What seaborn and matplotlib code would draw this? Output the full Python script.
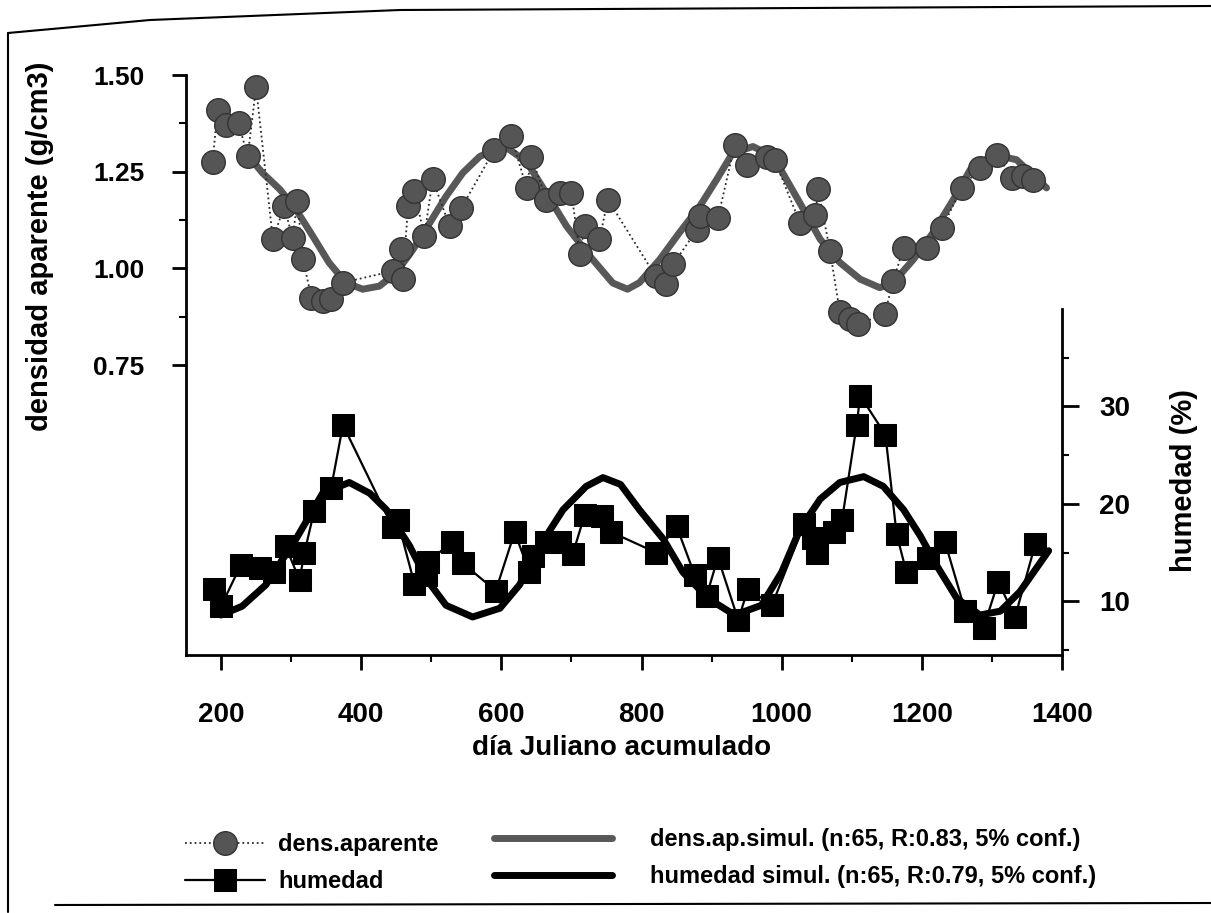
import matplotlib
matplotlib.use("Agg")
import matplotlib.pyplot as plt
from matplotlib.lines import Line2D
from matplotlib.ticker import MultipleLocator, FixedLocator
import seaborn as sns

# measured bulk density (g/cm3), in sampling order
dens_day = [188, 195, 207, 225, 238, 250, 274, 290, 302, 309, 317, 329, 345, 357, 374,
            445, 457, 459, 467, 476, 490, 502, 526, 543, 590, 614, 636, 643, 664, 683,
            700, 712, 719, 740, 752, 820, 835, 845, 879, 883, 909, 933, 950, 979, 990,
            1026, 1048, 1052, 1069, 1083, 1097, 1109, 1147, 1159, 1174, 1207, 1229, 1257,
            1283, 1307, 1329, 1345, 1359]
dens_val = [1.276, 1.41, 1.37, 1.375, 1.29, 1.468, 1.075, 1.16, 1.079, 1.173, 1.023, 0.924,
            0.915, 0.92, 0.963, 0.993, 1.049, 0.972, 1.16, 1.2, 1.083, 1.23, 1.109, 1.156,
            1.307, 1.341, 1.208, 1.289, 1.178, 1.195, 1.195, 1.036, 1.109, 1.075, 1.178,
            0.98, 0.96, 1.01, 1.10, 1.135, 1.13, 1.32, 1.268, 1.289, 1.28, 1.118, 1.139,
            1.204, 1.045, 0.886, 0.87, 0.856, 0.881, 0.967, 1.053, 1.053, 1.105, 1.208,
            1.26, 1.294, 1.234, 1.24, 1.229]

# measured moisture (%)
hum_day = [190, 200, 228, 255, 276, 292, 312, 319, 333, 357, 374, 445, 452, 476, 493, 495,
           529, 545, 592, 619, 640, 645, 664, 683, 702, 719, 743, 757, 821, 850, 876, 893,
           909, 938, 952, 986, 1032, 1045, 1050, 1074, 1086, 1107, 1112, 1148, 1164, 1178,
           1209, 1233, 1262, 1288, 1309, 1333, 1362]
hum_val = [11.3, 9.5, 13.7, 13.4, 13.0, 15.7, 12.2, 15.0, 19.3, 21.6, 28.1, 17.6, 18.3, 11.8,
           12.7, 14.0, 16.1, 13.9, 11.1, 17.1, 13.0, 14.7, 16.1, 16.1, 14.9, 18.9, 18.8, 17.1,
           15.0, 17.7, 12.7, 10.6, 14.5, 8.1, 11.3, 9.6, 17.9, 16.5, 15.0, 17.1, 18.3, 28.1,
           31.1, 27.1, 16.9, 13.0, 14.4, 16.1, 9.0, 7.3, 12.0, 8.4, 15.9]

# simulated curves
dsim_day = [238, 259, 284, 307, 331, 354, 378, 402, 426, 450, 474, 498, 521, 545, 569, 593,
            605, 625, 640, 664, 693, 726, 759, 780, 797, 826, 854, 883, 907, 930, 959, 988,
            1007, 1026, 1055, 1083, 1112, 1140, 1159, 1188, 1216, 1245, 1269, 1302, 1335, 1378]
dsim_val = [1.293, 1.247, 1.204, 1.152, 1.083, 1.015, 0.963, 0.946, 0.954, 0.989, 1.049,
            1.118, 1.186, 1.247, 1.289, 1.310, 1.315, 1.29, 1.264, 1.195, 1.109, 1.032, 0.962,
            0.946, 0.963, 1.023, 1.092, 1.16, 1.229, 1.298, 1.315, 1.289, 1.229, 1.169, 1.075,
            1.015, 0.972, 0.95, 0.963, 1.023, 1.092, 1.178, 1.255, 1.294, 1.281, 1.208]

hsim_day = [200, 230, 264, 307, 345, 383, 412, 436, 469, 493, 521, 559, 598, 626, 655, 688,
            721, 745, 770, 797, 831, 859, 895, 933, 971, 1000, 1026, 1055, 1083, 1117, 1145,
            1174, 1198, 1221, 1250, 1283, 1312, 1340, 1381]
hsim_val = [8.6, 9.5, 11.7, 16.4, 21.1, 22.2, 21.1, 19.4, 15.7, 12.3, 9.6, 8.4, 9.3, 11.7,
            15.7, 19.4, 21.8, 22.7, 22.0, 19.4, 16.4, 13.0, 10.3, 8.6, 9.6, 13.0, 17.4, 20.5,
            22.2, 22.8, 21.8, 19.4, 16.7, 13.7, 10.3, 8.6, 9.0, 11.0, 15.2]

lab_dens = 'dens.aparente'
lab_hum = 'humedad'
lab_dsim = 'dens.ap.simul. (n:65, R:0.83, 5% conf.)'
lab_hsim = 'humedad simul. (n:65, R:0.79, 5% conf.)'

sns.set_theme(style="ticks")
plt.rcParams['font.family'] = ['Liberation Sans', 'DejaVu Sans']
plt.rcParams['font.weight'] = 'bold'
plt.rcParams['axes.linewidth'] = 2
for k in ['text.color', 'axes.labelcolor', 'xtick.color', 'ytick.color', 'axes.edgecolor']:
    plt.rcParams[k] = 'black'

W, H = 1211, 913
fig = plt.figure(figsize=(W / 100, H / 100), dpi=100)
ax = fig.add_axes([186 / W, 1 - 655 / H, 876 / W, 580 / H])
ax2 = ax.twinx()

# density on the left axis
sns.lineplot(x=dsim_day, y=dsim_val, ax=ax, color='#585858', linewidth=5,
             solid_joinstyle='round', sort=False, estimator=None, label=lab_dsim)
sns.lineplot(x=dens_day, y=dens_val, ax=ax, color='#2a2a2a', linewidth=1.3, linestyle=':',
             marker='o', markersize=17, markerfacecolor='#555555', markeredgecolor='#333333',
             markeredgewidth=1, sort=False, estimator=None, label=lab_dens)

# moisture on the right axis
sns.lineplot(x=hsim_day, y=hsim_val, ax=ax2, color='black', linewidth=5,
             solid_joinstyle='round', sort=False, estimator=None, label=lab_hsim)
sns.lineplot(x=hum_day, y=hum_val, ax=ax2, color='black', linewidth=1.6,
             marker='s', markersize=15.5, markerfacecolor='black', markeredgecolor='black',
             sort=False, estimator=None, label=lab_hum)

h1, l1 = ax.get_legend_handles_labels()
h2, l2 = ax2.get_legend_handles_labels()
ax.get_legend().remove()
ax2.get_legend().remove()
hd = dict(zip(l1 + l2, h1 + h2))

# axes limits and ticks
ax.set_xlim(150, 1400)
ax.set_ylim(0, 1.5)
ax2.set_ylim(4.5, 64)
ax.set_xticks(range(200, 1401, 200))
ax.xaxis.set_minor_locator(MultipleLocator(100))
ax.set_yticks([0.75, 1.0, 1.25, 1.5])
ax.set_yticklabels(['0.75', '1.00', '1.25', '1.50'])
ax.yaxis.set_minor_locator(FixedLocator([0.875, 1.125, 1.375]))
ax2.set_yticks([10, 20, 30])
ax2.yaxis.set_minor_locator(FixedLocator([5, 15, 25, 35]))

ax.spines['top'].set_visible(False)
ax.spines['right'].set_visible(False)
for s in ['top', 'left', 'bottom']:
    ax2.spines[s].set_visible(False)
ax2.spines['right'].set_bounds(4.5, 40)

ax.tick_params(axis='x', which='major', direction='out', length=11, width=2, pad=23,
               labelsize=20)
ax.tick_params(axis='y', which='major', direction='out', length=10, width=2, pad=20,
               labelsize=19)
ax.tick_params(which='minor', direction='out', length=5, width=1.5)
ax2.tick_params(axis='y', which='major', direction='out', length=12, width=2, pad=15,
                labelsize=20)
ax2.tick_params(axis='y', which='minor', direction='out', length=5, width=1.5)
ax.set_xlabel('')
ax.set_ylabel('')
ax2.set_ylabel('')

fig.text(622 / W, 1 - 748 / H, 'día Juliano acumulado', ha='center', va='center',
         fontsize=20, fontweight='bold')
fig.text(40 / W, 1 - 246 / H, 'densidad aparente (g/cm3)', ha='center', va='center',
         rotation=90, fontsize=21, fontweight='bold')
fig.text(1184 / W, 1 - 480 / H, 'humedad (%)', ha='center', va='center',
         rotation=90, fontsize=21, fontweight='bold')

# legend in two blocks below the plot
fig.legend([hd[lab_dens], hd[lab_hum]], [lab_dens, lab_hum], loc='center left',
           bbox_to_anchor=(185 / W, 1 - 863 / H), frameon=False, fontsize=17,
           handlelength=3.4, handletextpad=0.55, labelspacing=0.6,
           borderpad=0, borderaxespad=0)
fig.legend([hd[lab_dsim], hd[lab_hsim]], [lab_dsim, lab_hsim], loc='center left',
           bbox_to_anchor=(494 / W, 1 - 858 / H), frameon=False, fontsize=17,
           handlelength=5.0, handletextpad=1.6, labelspacing=0.6,
           borderpad=0, borderaxespad=0)

# frame of the scanned page
fx = lambda v: v / W
fy = lambda v: 1 - v / H
fig.add_artist(Line2D([fx(8), fx(150), fx(400), fx(1211)], [fy(33), fy(20), fy(10), fy(6)],
                      transform=fig.transFigure, color='black', lw=1.5))
fig.add_artist(Line2D([fx(8), fx(8)], [fy(33), fy(912)], transform=fig.transFigure,
                      color='black', lw=1.5))
fig.add_artist(Line2D([fx(55), fx(1211)], [fy(905), fy(903)], transform=fig.transFigure,
                      color='black', lw=1.5))

fig.savefig('out.png', dpi=100, facecolor='white')
